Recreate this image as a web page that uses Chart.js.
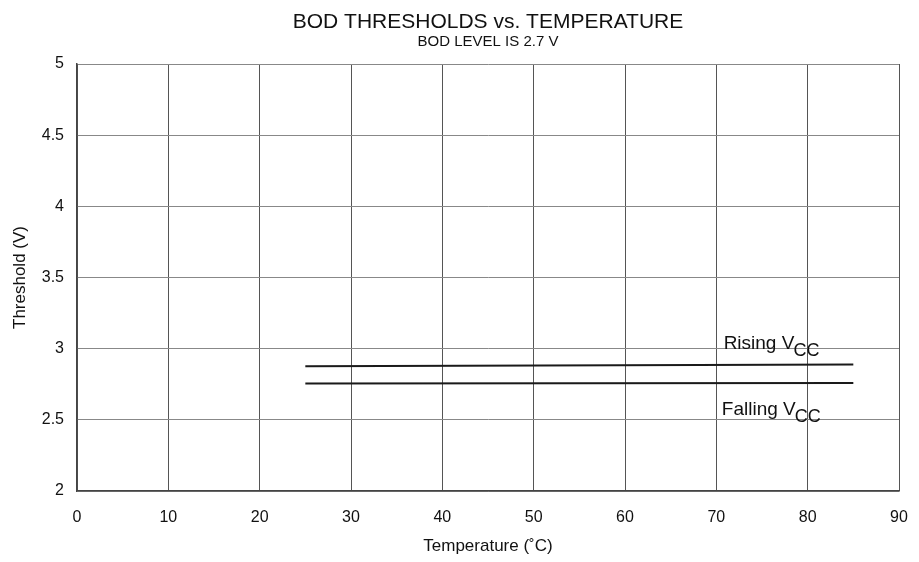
<!DOCTYPE html>
<html>
<head>
<meta charset="utf-8">
<script src="https://cdn.jsdelivr.net/npm/chart.js@4"></script>
<style>
  body { margin: 0; background: #fff; }
</style>
</head>
<body>
<canvas id="bodChart" width="919" height="562"></canvas>
<script>
// BOD thresholds vs temperature, BOD level 2.7 V
var temps = [25, 85];
var risingVcc = [2.877, 2.888];
var fallingVcc = [2.755, 2.759];

var xTicks = [0, 10, 20, 30, 40, 50, 60, 70, 80, 90];
var yTicks = [2, 2.5, 3, 3.5, 4, 4.5, 5];

var titleText = 'BOD THRESHOLDS vs. TEMPERATURE';
var subtitleText = 'BOD LEVEL IS 2.7 V';

// label anchors in data units: [x, y, main text, subscript]
var curveLabels = [
    [70.8, 3.0, 'Rising V', 'CC'],
    [70.6, 2.535, 'Falling V', 'CC']
];

var fontFam = '"Liberation Sans", Arial, sans-serif';

function toPoints(xs, ys) {
    return xs.map(function (x, i) { return { x: x, y: ys[i] }; });
}

var textPlugin = {
    id: 'textPlugin',
    afterDraw: function (chart) {
        var ctx = chart.ctx;
        var area = chart.chartArea;
        var cx = (area.left + area.right) / 2;
        ctx.save();
        ctx.fillStyle = '#111';
        ctx.textAlign = 'center';
        ctx.textBaseline = 'middle';
        ctx.font = '21px ' + fontFam;
        ctx.fillText(titleText, cx, 22);
        ctx.font = '15px ' + fontFam;
        ctx.fillText(subtitleText, cx, 42);

        var xs = chart.scales.x, ys = chart.scales.y;
        ctx.textAlign = 'left';
        ctx.textBaseline = 'alphabetic';
        curveLabels.forEach(function (l) {
            var px = xs.getPixelForValue(l[0]);
            var py = ys.getPixelForValue(l[1]);
            ctx.font = '19px ' + fontFam;
            ctx.fillText(l[2], px, py);
            var w = ctx.measureText(l[2]).width;
            ctx.font = '18px ' + fontFam;
            ctx.fillText(l[3], px + w - 1, py + 7);
        });
        ctx.restore();
    }
};

new Chart(document.getElementById('bodChart'), {
    type: 'scatter',
    data: {
        datasets: [{
            label: 'Rising VCC',
            data: toPoints(temps, risingVcc),
            showLine: true,
            borderColor: '#1a1a1a',
            borderWidth: 2,
            pointRadius: 0
        }, {
            label: 'Falling VCC',
            data: toPoints(temps, fallingVcc),
            showLine: true,
            borderColor: '#1a1a1a',
            borderWidth: 2,
            pointRadius: 0
        }]
    },
    options: {
        responsive: false,
        animation: false,
        layout: { padding: { top: 64, right: 20, left: 0, bottom: 0 } },
        plugins: {
            legend: { display: false },
            tooltip: { enabled: false }
        },
        scales: {
            x: {
                type: 'linear',
                min: 0,
                max: 90,
                afterBuildTicks: function (s) { s.ticks = xTicks.map(function (v) { return { value: v }; }); },
                afterFit: function (s) { s.height = 71; s.paddingRight = 0; s.paddingLeft = 0; },
                grid: { color: '#555', tickLength: 0, drawTicks: false },
                border: { color: '#444', width: 1.5 },
                ticks: { color: '#111', padding: 17, font: { family: fontFam, size: 16 }, maxRotation: 0 },
                title: { display: true, text: 'Temperature (˚C)', color: '#111', padding: { top: 0, bottom: 5 }, font: { family: fontFam, size: 17 } }
            },
            y: {
                min: 2,
                max: 5,
                afterBuildTicks: function (s) { s.ticks = yTicks.map(function (v) { return { value: v }; }); },
                afterFit: function (s) { s.width = 77; },
                grid: { color: '#888', tickLength: 0, drawTicks: false },
                border: { color: '#444', width: 1.5 },
                ticks: {
                    color: '#111', padding: 13, font: { family: fontFam, size: 16 },
                    callback: function (v) { return String(v); }
                },
                title: { display: true, text: 'Threshold (V)', color: '#111', padding: { top: 10, bottom: 0 }, font: { family: fontFam, size: 17 } }
            }
        }
    },
    plugins: [textPlugin]
});
</script>
</body>
</html>
